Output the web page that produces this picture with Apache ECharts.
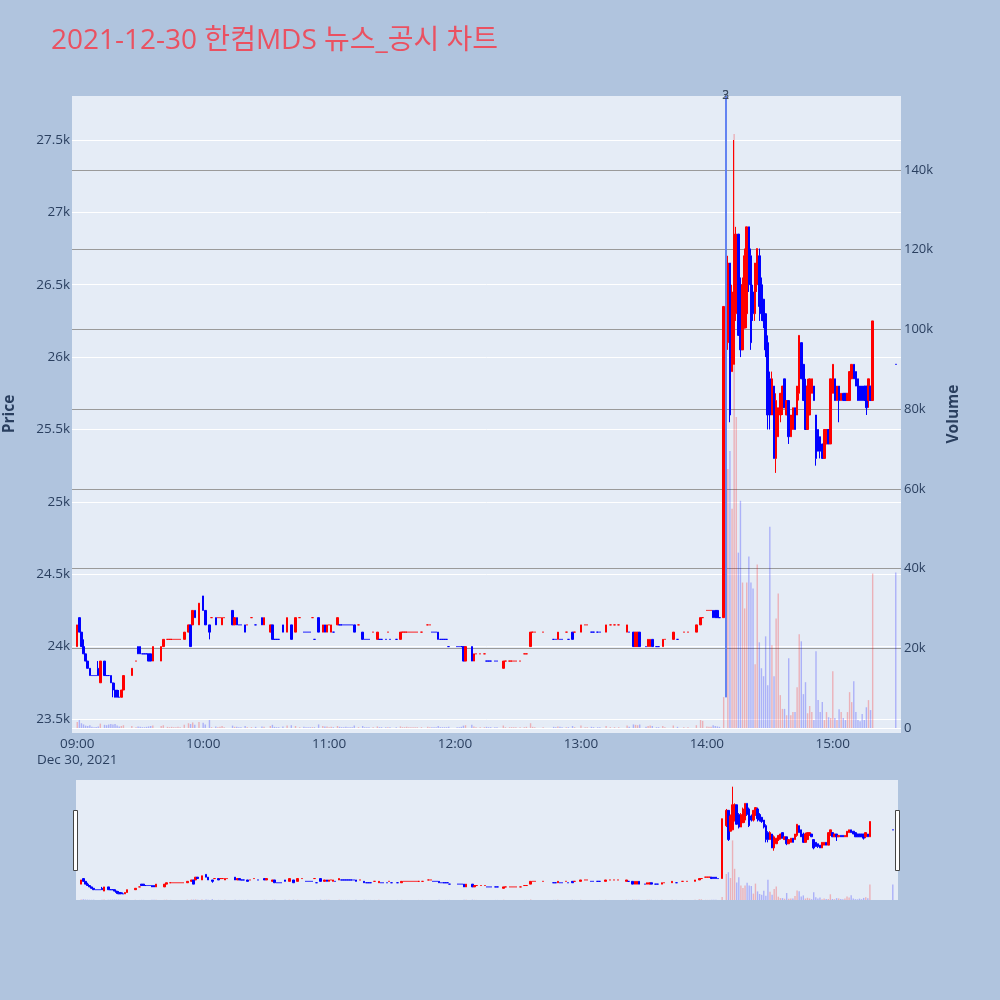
<!DOCTYPE html>
<html>
<head>
<meta charset="utf-8">
<script src="https://cdn.jsdelivr.net/npm/echarts@6/dist/echarts.min.js"></script>
<style>
  html, body { margin: 0; padding: 0; background: #b0c4de; }
  #chart { width: 1000px; height: 1000px; }
</style>
</head>
<body>
<div id="chart"></div>
<script>
// 1분봉: [시간, 시가, 종가, 저가, 고가, 거래량]
const morningBars = [
  ['09:00', 24000, 24150, 24000, 24150, 1500],
  ['09:01', 24200, 24100, 24100, 24200, 2000],
  ['09:02', 24100, 24000, 24000, 24100, 1200],
  ['09:03', 24000, 23950, 23950, 24050, 900],
  ['09:04', 23950, 23900, 23900, 23950, 600],
  ['09:05', 23900, 23850, 23850, 23900, 500],
  ['09:06', 23850, 23800, 23800, 23850, 700],
  ['09:07', 23800, 23800, 23800, 23800, 300],
  ['09:08', 23800, 23800, 23800, 23800, 200],
  ['09:09', 23800, 23800, 23800, 23800, 250],
  ['09:10', 23850, 23800, 23800, 23900, 400],
  ['09:11', 23750, 23900, 23750, 23900, 1100],
  ['09:13', 23900, 23800, 23800, 23900, 800],
  ['09:14', 23800, 23800, 23800, 23800, 700],
  ['09:15', 23800, 23800, 23800, 23800, 900],
  ['09:16', 23800, 23750, 23750, 23800, 1000],
  ['09:17', 23750, 23700, 23650, 23750, 900],
  ['09:18', 23700, 23650, 23650, 23750, 1000],
  ['09:19', 23700, 23650, 23650, 23700, 600],
  ['09:20', 23650, 23650, 23650, 23700, 400],
  ['09:21', 23650, 23700, 23650, 23700, 500],
  ['09:22', 23700, 23800, 23700, 23800, 700],
  ['09:26', 23800, 23850, 23800, 23850, 500],
  ['09:28', 23900, 23900, 23900, 23900, 200],
  ['09:29', 24000, 23950, 23950, 24000, 400],
  ['09:30', 24000, 23950, 23950, 24000, 300],
  ['09:31', 23950, 23950, 23950, 23950, 200],
  ['09:32', 23950, 23950, 23950, 23950, 200],
  ['09:33', 23950, 23950, 23950, 23950, 300],
  ['09:34', 23950, 23900, 23900, 23950, 400],
  ['09:35', 23950, 23900, 23900, 23950, 500],
  ['09:36', 23900, 24000, 23900, 24000, 600],
  ['09:40', 23900, 24000, 23900, 24000, 500],
  ['09:41', 24000, 24050, 24000, 24050, 700],
  ['09:43', 24050, 24050, 24050, 24050, 300],
  ['09:44', 24050, 24050, 24050, 24050, 200],
  ['09:45', 24050, 24050, 24050, 24050, 300],
  ['09:46', 24050, 24050, 24050, 24050, 200],
  ['09:47', 24050, 24050, 24050, 24050, 200],
  ['09:48', 24050, 24050, 24050, 24050, 300],
  ['09:49', 24050, 24050, 24050, 24050, 200],
  ['09:51', 24050, 24100, 24050, 24100, 800],
  ['09:53', 24100, 24150, 24100, 24150, 1200],
  ['09:54', 24150, 24000, 24000, 24150, 1000],
  ['09:55', 24150, 24250, 24150, 24250, 1400],
  ['09:56', 24250, 24200, 24200, 24250, 800],
  ['09:58', 24150, 24300, 24150, 24300, 1500],
  ['10:00', 24350, 24250, 24250, 24350, 1300],
  ['10:01', 24250, 24150, 24150, 24250, 900],
  ['10:03', 24150, 24100, 24050, 24150, 2000],
  ['10:04', 24200, 24200, 24200, 24200, 200],
  ['10:06', 24200, 24150, 24150, 24200, 400],
  ['10:07', 24200, 24200, 24200, 24200, 200],
  ['10:08', 24200, 24200, 24200, 24200, 300],
  ['10:09', 24150, 24200, 24150, 24200, 500],
  ['10:10', 24200, 24200, 24200, 24200, 200],
  ['10:14', 24250, 24150, 24150, 24250, 600],
  ['10:15', 24150, 24200, 24150, 24200, 300],
  ['10:16', 24200, 24150, 24150, 24200, 300],
  ['10:17', 24150, 24150, 24150, 24150, 200],
  ['10:18', 24150, 24150, 24150, 24150, 200],
  ['10:20', 24150, 24100, 24100, 24150, 500],
  ['10:21', 24150, 24150, 24150, 24150, 200],
  ['10:23', 24200, 24200, 24200, 24200, 200],
  ['10:25', 24150, 24150, 24150, 24150, 300],
  ['10:28', 24200, 24150, 24150, 24200, 400],
  ['10:29', 24150, 24200, 24150, 24200, 300],
  ['10:32', 24100, 24150, 24100, 24150, 500],
  ['10:33', 24150, 24050, 24050, 24150, 800],
  ['10:34', 24050, 24050, 24050, 24050, 300],
  ['10:35', 24050, 24050, 24050, 24050, 200],
  ['10:36', 24050, 24050, 24050, 24050, 200],
  ['10:38', 24150, 24100, 24100, 24150, 400],
  ['10:40', 24100, 24200, 24100, 24200, 600],
  ['10:42', 24150, 24050, 24050, 24150, 700],
  ['10:44', 24100, 24200, 24100, 24200, 500],
  ['10:46', 24200, 24200, 24200, 24200, 200],
  ['10:48', 24100, 24100, 24100, 24100, 300],
  ['10:49', 24100, 24100, 24100, 24100, 200],
  ['10:50', 24100, 24100, 24100, 24100, 200],
  ['10:51', 24100, 24100, 24100, 24100, 200],
  ['10:52', 24200, 24200, 24200, 24200, 200],
  ['10:53', 24050, 24050, 24050, 24050, 200],
  ['10:55', 24200, 24100, 24100, 24200, 900],
  ['10:57', 24100, 24150, 24100, 24150, 500],
  ['10:58', 24150, 24100, 24100, 24150, 400],
  ['10:59', 24100, 24150, 24100, 24150, 400]
];

const noonBars = [
  ['11:00', 24150, 24150, 24150, 24150, 200],
  ['11:01', 24100, 24150, 24100, 24150, 300],
  ['11:02', 24100, 24100, 24100, 24100, 200],
  ['11:04', 24150, 24200, 24150, 24200, 500],
  ['11:05', 24150, 24150, 24150, 24150, 300],
  ['11:06', 24150, 24150, 24150, 24150, 200],
  ['11:07', 24150, 24150, 24150, 24150, 200],
  ['11:08', 24150, 24150, 24150, 24150, 300],
  ['11:09', 24150, 24150, 24150, 24150, 200],
  ['11:10', 24150, 24150, 24150, 24150, 200],
  ['11:11', 24150, 24150, 24150, 24150, 200],
  ['11:12', 24150, 24100, 24100, 24150, 600],
  ['11:14', 24150, 24150, 24150, 24150, 200],
  ['11:16', 24100, 24050, 24050, 24100, 500],
  ['11:17', 24050, 24050, 24050, 24050, 200],
  ['11:18', 24050, 24050, 24050, 24050, 200],
  ['11:19', 24050, 24050, 24050, 24050, 200],
  ['11:21', 24100, 24100, 24100, 24100, 200],
  ['11:23', 24050, 24100, 24050, 24100, 400],
  ['11:24', 24050, 24050, 24050, 24050, 200],
  ['11:25', 24050, 24050, 24050, 24050, 200],
  ['11:27', 24050, 24050, 24050, 24050, 200],
  ['11:28', 24100, 24100, 24100, 24100, 200],
  ['11:29', 24050, 24050, 24050, 24050, 200],
  ['11:32', 24050, 24050, 24050, 24050, 200],
  ['11:34', 24050, 24100, 24050, 24100, 400],
  ['11:35', 24100, 24100, 24100, 24100, 200],
  ['11:36', 24100, 24100, 24100, 24100, 200],
  ['11:37', 24100, 24100, 24100, 24100, 300],
  ['11:38', 24100, 24100, 24100, 24100, 200],
  ['11:39', 24100, 24100, 24100, 24100, 200],
  ['11:40', 24100, 24100, 24100, 24100, 200],
  ['11:41', 24100, 24100, 24100, 24100, 200],
  ['11:42', 24100, 24100, 24100, 24100, 200],
  ['11:44', 24100, 24100, 24100, 24100, 200],
  ['11:47', 24150, 24150, 24150, 24150, 300],
  ['11:48', 24150, 24150, 24150, 24150, 200],
  ['11:49', 24100, 24100, 24100, 24100, 200],
  ['11:50', 24100, 24100, 24100, 24100, 200],
  ['11:51', 24100, 24100, 24100, 24100, 200],
  ['11:52', 24100, 24050, 24050, 24100, 500],
  ['11:53', 24050, 24050, 24050, 24050, 200],
  ['11:54', 24050, 24050, 24050, 24050, 200],
  ['11:55', 24050, 24050, 24050, 24050, 200],
  ['11:56', 24050, 24050, 24050, 24050, 200],
  ['11:57', 24000, 24000, 24000, 24000, 300],
  ['12:01', 24000, 24000, 24000, 24000, 200],
  ['12:02', 24000, 24000, 24000, 24000, 200],
  ['12:03', 24000, 24000, 24000, 24000, 300],
  ['12:04', 24000, 23900, 23900, 24000, 600],
  ['12:05', 23900, 24000, 23900, 24000, 700],
  ['12:08', 24000, 23900, 23900, 24000, 800],
  ['12:09', 23900, 23950, 23900, 23950, 400],
  ['12:10', 23950, 23950, 23950, 23950, 200],
  ['12:12', 23950, 23950, 23950, 23950, 200],
  ['12:14', 23950, 23950, 23950, 23950, 200],
  ['12:15', 23900, 23900, 23900, 23900, 300],
  ['12:16', 23900, 23900, 23900, 23900, 200],
  ['12:17', 23900, 23900, 23900, 23900, 200],
  ['12:19', 23900, 23900, 23900, 23900, 200],
  ['12:20', 23900, 23900, 23900, 23900, 200],
  ['12:23', 23850, 23900, 23850, 23900, 600],
  ['12:24', 23900, 23900, 23900, 23900, 200],
  ['12:26', 23900, 23900, 23900, 23900, 200],
  ['12:27', 23900, 23900, 23900, 23900, 200],
  ['12:28', 23900, 23900, 23900, 23900, 200],
  ['12:29', 23900, 23900, 23900, 23900, 200]
];

const afternoonBars = [
  ['12:31', 23900, 23900, 23900, 23900, 200],
  ['12:33', 23950, 23950, 23950, 23950, 200],
  ['12:34', 23950, 23950, 23950, 23950, 300],
  ['12:36', 24000, 24100, 24000, 24100, 1200],
  ['12:37', 24100, 24100, 24100, 24100, 300],
  ['12:38', 24100, 24100, 24100, 24100, 200],
  ['12:42', 24100, 24100, 24100, 24100, 200],
  ['12:47', 24050, 24050, 24050, 24050, 300],
  ['12:48', 24050, 24050, 24050, 24050, 200],
  ['12:49', 24050, 24100, 24050, 24100, 400],
  ['12:50', 24050, 24050, 24050, 24050, 300],
  ['12:51', 24050, 24050, 24050, 24050, 200],
  ['12:53', 24100, 24100, 24100, 24100, 200],
  ['12:54', 24050, 24050, 24050, 24050, 200],
  ['12:56', 24100, 24050, 24050, 24100, 500],
  ['12:57', 24100, 24100, 24100, 24100, 200],
  ['13:00', 24100, 24150, 24100, 24150, 600],
  ['13:02', 24150, 24150, 24150, 24150, 200],
  ['13:03', 24150, 24150, 24150, 24150, 200],
  ['13:05', 24100, 24100, 24100, 24100, 300],
  ['13:06', 24100, 24100, 24100, 24100, 200],
  ['13:08', 24100, 24100, 24100, 24100, 200],
  ['13:09', 24100, 24100, 24100, 24100, 200],
  ['13:12', 24100, 24150, 24100, 24150, 500],
  ['13:14', 24150, 24150, 24150, 24150, 200],
  ['13:16', 24150, 24150, 24150, 24150, 200],
  ['13:18', 24150, 24150, 24150, 24150, 200],
  ['13:22', 24100, 24150, 24100, 24150, 600],
  ['13:23', 24100, 24100, 24100, 24100, 300],
  ['13:25', 24100, 24000, 24000, 24100, 900],
  ['13:26', 24000, 24100, 24000, 24100, 800],
  ['13:27', 24000, 24100, 24000, 24100, 700],
  ['13:28', 24100, 24000, 24000, 24100, 900],
  ['13:31', 24000, 24000, 24000, 24000, 300],
  ['13:32', 24000, 24050, 24000, 24050, 500],
  ['13:33', 24000, 24050, 24000, 24050, 600],
  ['13:34', 24050, 24000, 24000, 24050, 500],
  ['13:36', 24000, 24000, 24000, 24000, 200],
  ['13:37', 24000, 24000, 24000, 24000, 200],
  ['13:39', 24000, 24050, 24000, 24050, 500],
  ['13:40', 24050, 24050, 24050, 24050, 200],
  ['13:44', 24050, 24100, 24050, 24100, 600],
  ['13:46', 24050, 24050, 24050, 24050, 300],
  ['13:49', 24100, 24100, 24100, 24100, 200],
  ['13:51', 24100, 24100, 24100, 24100, 200],
  ['13:55', 24100, 24150, 24100, 24150, 700],
  ['13:57', 24150, 24200, 24150, 24200, 2000],
  ['13:58', 24200, 24200, 24200, 24200, 1800],
  ['14:00', 24250, 24250, 24250, 24250, 400],
  ['14:01', 24250, 24250, 24250, 24250, 300],
  ['14:02', 24250, 24250, 24250, 24250, 300],
  ['14:03', 24250, 24200, 24200, 24250, 700],
  ['14:04', 24250, 24200, 24200, 24250, 500],
  ['14:05', 24250, 24200, 24200, 24250, 400],
  ['14:06', 24200, 24200, 24200, 24200, 300],
  ['14:08', 24200, 26350, 24200, 26350, 7750]
];

const surgeBars = [
  ['14:10', 26100, 26650, 26050, 26700, 65000],
  ['14:11', 26650, 25600, 25550, 26650, 69500],
  ['14:12', 25900, 26450, 25900, 26500, 55000],
  ['14:13', 25950, 26850, 25950, 27500, 149000],
  ['14:14', 26300, 26850, 26250, 26900, 78000],
  ['14:15', 26850, 26150, 26150, 26850, 44000],
  ['14:16', 26500, 26050, 26000, 26550, 57000],
  ['14:17', 26050, 26500, 26050, 26550, 36500],
  ['14:18', 26200, 26700, 26200, 26750, 30000],
  ['14:19', 26300, 26900, 26200, 26900, 36500],
  ['14:20', 26900, 26500, 26450, 26900, 43000],
  ['14:21', 26700, 26100, 26050, 26750, 36500],
  ['14:22', 26450, 26300, 26250, 26500, 35000],
  ['14:23', 26300, 26650, 26250, 26650, 16000],
  ['14:24', 26500, 26750, 26450, 26750, 41000],
  ['14:25', 26700, 26350, 26250, 26750, 21500],
  ['14:26', 26500, 26300, 26250, 26550, 15000],
  ['14:27', 26400, 26250, 26200, 26400, 13000],
  ['14:28', 26300, 26050, 26000, 26300, 23000],
  ['14:29', 26100, 25600, 25500, 26150, 10750],
  ['14:30', 25850, 25600, 25500, 25900, 50500],
  ['14:31', 25600, 25850, 25600, 25900, 20750],
  ['14:32', 25800, 25300, 25300, 25800, 13000],
  ['14:33', 25300, 25700, 25200, 25750, 27500],
  ['14:34', 25450, 25650, 25450, 25650, 33750],
  ['14:35', 25600, 25750, 25550, 25750, 8250],
  ['14:36', 25650, 25800, 25600, 25800, 4800],
  ['14:37', 25850, 25650, 25650, 25850, 4800],
  ['14:38', 25600, 25700, 25600, 25700, 3200],
  ['14:39', 25700, 25450, 25400, 25700, 17500],
  ['14:40', 25450, 25600, 25450, 25600, 3200],
  ['14:41', 25500, 25650, 25500, 25650, 4000],
  ['14:42', 25650, 25500, 25500, 25650, 4000],
  ['14:43', 25600, 25800, 25600, 25800, 10250],
  ['14:44', 25750, 26150, 25700, 26150, 23500],
  ['14:45', 26100, 25850, 25850, 26100, 21750],
  ['14:46', 25950, 25700, 25700, 25950, 8500],
  ['14:47', 25800, 25500, 25500, 25850, 11500],
  ['14:48', 25500, 25800, 25500, 25850, 3700],
  ['14:49', 25600, 25850, 25600, 25850, 5500],
  ['14:50', 25750, 25850, 25750, 25850, 4000],
  ['14:51', 25800, 25700, 25700, 25800, 2000],
  ['14:52', 25600, 25300, 25250, 25600, 19250],
  ['14:53', 25500, 25350, 25350, 25500, 7000],
  ['14:54', 25450, 25350, 25300, 25450, 4000],
  ['14:55', 25400, 25300, 25300, 25400, 6500],
  ['14:56', 25300, 25500, 25300, 25500, 2000],
  ['14:57', 25400, 25500, 25400, 25500, 4000],
  ['14:58', 25500, 25400, 25400, 25500, 2700],
  ['14:59', 25400, 25850, 25400, 25850, 2500],
  ['15:00', 25750, 25950, 25750, 25950, 14250],
  ['15:01', 25850, 25700, 25700, 25850, 2500],
  ['15:02', 25700, 25800, 25700, 25800, 2000],
  ['15:03', 25800, 25700, 25550, 25800, 4700],
  ['15:04', 25700, 25750, 25700, 25750, 4000],
  ['15:05', 25750, 25700, 25700, 25750, 2500],
  ['15:06', 25750, 25700, 25700, 25750, 2000],
  ['15:07', 25700, 25750, 25700, 25750, 4000],
  ['15:08', 25700, 25900, 25700, 25900, 9000],
  ['15:09', 25850, 25950, 25850, 25950, 6500],
  ['15:10', 25950, 25850, 25850, 25950, 11750],
  ['15:11', 25900, 25800, 25800, 25900, 4000],
  ['15:12', 25850, 25700, 25700, 25850, 2000],
  ['15:13', 25800, 25700, 25700, 25800, 1700],
  ['15:14', 25800, 25700, 25700, 25800, 3500],
  ['15:15', 25800, 25700, 25700, 25800, 2000],
  ['15:16', 25800, 25650, 25600, 25800, 5200],
  ['15:17', 25700, 25850, 25650, 25850, 7000],
  ['15:18', 25800, 25700, 25700, 25800, 4500],
  ['15:19', 25700, 26250, 25700, 26250, 38750],
  ['15:30', 25950, 25950, 25950, 25950, 39000]
];

// 뉴스 표시선
const newsTime = '14:09';
const newsLabels = ['2', '3'];
const newsLineFrom = 23650;

const priceMin = 23410, priceMax = 27804;
const volMin = -1000, volMax = 158560;

const RED = '#ff0000', BLUE = '#0000ff';
const BG = '#e5ecf6';

function pad(n) { return (n < 10 ? '0' : '') + n; }

// x축 분 단위 카테고리 (08:58 ~ 15:32)
let minutes = [];
for (let m = 8 * 60 + 58; m <= 15 * 60 + 32; m++) {
  minutes.push(pad(Math.floor(m / 60)) + ':' + pad(m % 60));
}

let bars = [].concat(morningBars, noonBars, afternoonBars, surgeBars);
let byTime = {};
let lastClose = null, lastUp = true;
bars.forEach(function (b) {
  let up;
  if (b[2] > b[1]) up = true;
  else if (b[2] < b[1]) up = false;
  else if (lastClose !== null && b[2] > lastClose) up = true;
  else if (lastClose !== null && b[2] < lastClose) up = false;
  else up = lastUp;
  lastClose = b[2];
  lastUp = up;
  byTime[b[0]] = { bar: b, color: up ? RED : BLUE };
});

let candleData = minutes.map(function (t) {
  let d = byTime[t];
  if (!d) return '-';
  return {
    value: [d.bar[1], d.bar[2], d.bar[3], d.bar[4]],
    itemStyle: { color: d.color, color0: d.color, borderColor: d.color, borderColor0: d.color }
  };
});
let volumeData = minutes.map(function (t) {
  let d = byTime[t];
  if (!d) return '-';
  return {
    value: d.bar[5],
    itemStyle: { color: d.color === RED ? 'rgba(255,0,0,0.25)' : 'rgba(0,0,255,0.25)' }
  };
});

let myChart = echarts.init(document.getElementById('chart'));
const font = "'Open Sans', 'Noto Sans CJK KR', sans-serif";
const textColor = '#2a3f5f';

let option = {
  backgroundColor: '#b0c4de',
  animation: false,
  textStyle: { fontFamily: font },
  title: {
    text: '2021-12-30 한컴MDS 뉴스_공시 차트',
    left: 46,
    top: 22,
    textStyle: { fontFamily: font, fontSize: 28, fontWeight: 'normal', color: '#ea5161' }
  },
  grid: [
    { left: 72, right: 99, top: 96, height: 636, show: true, backgroundColor: BG, borderWidth: 0, outerBoundsMode: 'none', containLabel: false },
    { left: 76, right: 102, top: 780, height: 120, show: true, backgroundColor: BG, borderWidth: 0, outerBoundsMode: 'none', containLabel: false }
  ],
  xAxis: [
    {
      type: 'category',
      gridIndex: 0,
      data: minutes,
      boundaryGap: true,
      axisLine: { show: false },
      axisTick: { show: false },
      splitLine: { show: false },
      axisLabel: {
        color: textColor,
        fontSize: 13.5,
        fontFamily: font,
        margin: 4,
        lineHeight: 16,
        interval: function (idx, val) { return val.slice(3) === '00'; },
        formatter: function (val) { return val === '09:00' ? '09:00\nDec 30, 2021' : val; }
      }
    },
    {
      type: 'category',
      gridIndex: 1,
      data: minutes,
      boundaryGap: true,
      show: false
    }
  ],
  yAxis: [
    {
      type: 'value',
      gridIndex: 0,
      min: priceMin,
      max: priceMax,
      splitNumber: 9,
      name: 'Price',
      nameLocation: 'middle',
      nameRotate: 90,
      nameGap: 55,
      nameTextStyle: { color: textColor, fontSize: 15.5, fontWeight: 'bold', fontFamily: font },
      axisLine: { show: false },
      axisTick: { show: false },
      axisLabel: {
        color: textColor, fontSize: 13.5, fontFamily: font, margin: 2,
        showMinLabel: false, showMaxLabel: false,
        formatter: function (v) { return (v / 1000) + 'k'; }
      },
      splitLine: {
        lineStyle: { color: [BG, '#fff', '#fff', '#fff', '#fff', '#fff', '#fff', '#fff', '#fff', '#fff', BG], width: 1 }
      }
    },
    {
      type: 'value',
      gridIndex: 0,
      position: 'right',
      min: volMin,
      max: volMax,
      splitNumber: 8,
      name: 'Volume',
      nameLocation: 'middle',
      nameRotate: 90,
      nameGap: 45,
      nameTextStyle: { color: textColor, fontSize: 15.5, fontWeight: 'bold', fontFamily: font },
      axisLine: { show: false },
      axisTick: { show: false },
      axisLabel: {
        color: textColor, fontSize: 13, fontFamily: font, margin: 3,
        showMinLabel: false, showMaxLabel: false,
        formatter: function (v) { return v === 0 ? '0' : (v / 1000) + 'k'; }
      },
      splitLine: {
        lineStyle: { color: [BG, '#fff', '#9a9a9a', '#9a9a9a', '#9a9a9a', '#9a9a9a', '#9a9a9a', '#9a9a9a', '#9a9a9a', BG], width: 1.2 }
      }
    },
    { type: 'value', gridIndex: 1, min: 23430, max: 27740, show: false, splitLine: { show: false } },
    { type: 'value', gridIndex: 1, min: 0, max: 300000, show: false, splitLine: { show: false } }
  ],
  graphic: [
    { type: 'rect', shape: { x: 73.5, y: 810.5, width: 4, height: 60 }, style: { fill: '#fff', stroke: '#444', lineWidth: 1 } },
    { type: 'rect', shape: { x: 895.5, y: 810.5, width: 4, height: 60 }, style: { fill: '#fff', stroke: '#444', lineWidth: 1 } }
  ],
  series: [
    {
      name: 'Volume',
      type: 'bar',
      xAxisIndex: 0,
      yAxisIndex: 1,
      data: volumeData,
      barWidth: 1.4
    },
    {
      name: 'Price',
      type: 'candlestick',
      xAxisIndex: 0,
      yAxisIndex: 0,
      data: candleData,
      barWidth: 2,
      itemStyle: { borderWidth: 1 },
      markLine: {
        silent: true,
        symbol: ['none', 'none'],
        lineStyle: { color: '#5b7cf0', width: 1.5, type: 'solid' },
        data: newsLabels.map(function (lab) {
          return [
            { coord: [newsTime, newsLineFrom] },
            {
              coord: [newsTime, priceMax],
              label: {
                show: true, formatter: lab, position: 'end', distance: -6,
                color: '#3b4a60', fontSize: 12, fontFamily: font
              }
            }
          ];
        })
      }
    },
    {
      type: 'bar',
      xAxisIndex: 1,
      yAxisIndex: 3,
      data: volumeData,
      barWidth: 1.4
    },
    {
      type: 'candlestick',
      xAxisIndex: 1,
      yAxisIndex: 2,
      data: candleData,
      barWidth: 2,
      itemStyle: { borderWidth: 1 }
    }
  ]
};

myChart.setOption(option);
window.addEventListener('resize', () => {
  myChart.resize();
});
</script>
</body>
</html>
